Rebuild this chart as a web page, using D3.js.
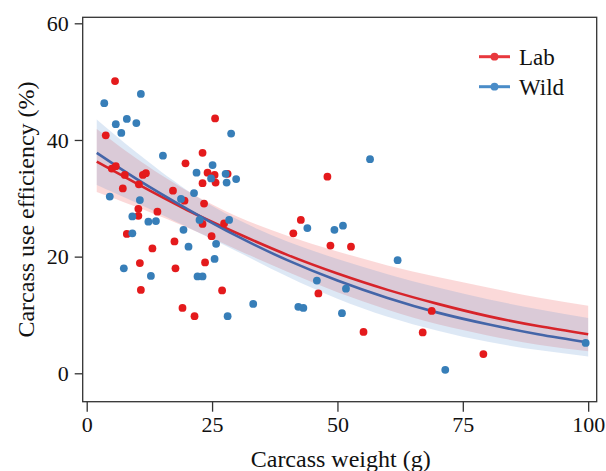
<!DOCTYPE html>
<html>
<head>
<meta charset="utf-8">
<script src="https://cdn.jsdelivr.net/npm/d3@7"></script>
<style>
	body { margin: 0; background: #fff; }
	svg text { font-family: 'Liberation Serif', 'Times New Roman', serif; fill: #111; }
	.tick line { stroke: #333; stroke-width: 1.3; }
	.tick text { font-size: 22px; }
	.label { font-size: 24px; }
	.legend { font-size: 23px; }
</style>
</head>
<body>
<svg width="606" height="471"></svg>
<script>
// points
let labWeight = [5.65, 3.8, 19.7, 25.6, 23.1, 24.1, 25.5, 28.1, 23.1, 25.7, 17.2, 19.5, 23.4, 14.1, 23.1, 27.4,
	17.5, 24.9, 23.6, 17.7, 27.0, 19.1, 21.5, 5.0, 5.8, 7.6, 11.2, 11.8, 7.2, 10.4, 10.3, 10.3, 8.0, 13.1, 10.6,
	10.8, 48.0, 42.7, 41.2, 48.6, 52.7, 46.2, 55.2, 68.8, 67.0, 79.1];
let labEff = [50.1, 40.8, 36.0, 43.7, 37.8, 34.4, 34.0, 34.2, 32.6, 32.7, 31.3, 29.6, 29.1, 27.7, 25.6, 25.7,
	22.6, 23.5, 19.0, 18.0, 14.2, 11.2, 9.8, 35.1, 35.5, 34.0, 34.0, 34.3, 31.7, 32.4, 28.2, 27.0, 23.9, 21.4, 18.9,
	14.3, 33.7, 26.3, 24.0, 21.9, 21.7, 13.7, 7.1, 10.7, 7.0, 3.3];
let wildWeight = [10.8, 3.5, 8.0, 5.8, 9.9, 6.9, 15.2, 21.9, 28.8, 25.1, 24.8, 27.7, 29.8, 27.9, 21.4, 18.8,
	22.5, 28.4, 19.3, 20.3, 25.8, 25.5, 22.1, 23.1, 33.2, 28.1, 4.6, 10.6, 9.1, 12.3, 13.8, 9.1, 7.4, 12.8,
	56.5, 44.0, 49.4, 51.1, 62.0, 45.9, 51.7, 42.2, 43.2, 50.9, 71.5, 99.5];
let wildEff = [47.9, 46.3, 43.6, 42.7, 42.9, 41.2, 37.3, 34.4, 41.1, 35.7, 33.4, 34.2, 33.3, 32.7, 30.9, 29.9,
	26.3, 26.3, 24.6, 21.7, 22.2, 19.6, 16.6, 16.6, 11.9, 9.8, 30.3, 29.7, 26.9, 26.0, 26.1, 24.0, 18.0, 16.7,
	36.7, 24.9, 24.6, 25.3, 19.4, 15.9, 14.5, 11.4, 11.2, 10.3, 0.6, 5.2];

// fitted curves and bands read at these weights
let fitWeight = [2, 10, 20, 30, 40, 50, 60, 70, 80, 90, 100];
let labFit = [36.3, 32.5, 28.0, 24.0, 20.3, 17.1, 14.3, 11.9, 9.8, 8.1, 6.7];
let labLow = [31.1, 28.5, 25.0, 21.2, 17.4, 13.9, 10.9, 8.4, 6.5, 4.9, 3.8];
let labHigh = [41.9, 36.8, 31.3, 26.9, 23.6, 20.9, 18.5, 16.5, 14.7, 13.0, 11.6];
let wildFit = [37.8, 33.3, 28.2, 23.5, 19.4, 15.9, 12.9, 10.4, 8.4, 6.7, 5.3];
let wildLow = [32.3, 29.2, 25.1, 20.9, 16.6, 12.8, 9.7, 7.3, 5.4, 4.0, 2.9];
let wildHigh = [43.5, 37.8, 31.4, 26.4, 22.6, 19.6, 17.0, 14.7, 12.7, 11.0, 9.5];

let xTicks = [0, 25, 50, 75, 100];
let yTicks = [0, 20, 40, 60];
let groups = ['Lab', 'Wild'];

let svg = d3.select('svg');
let plotLeft = 82.7, plotRight = 596.7, plotTop = 17.3, plotBottom = 401.7;

let xScale = d3.scaleLinear().domain([-0.8, 101.7]).range([plotLeft, plotRight]);
let yScale = d3.scaleLinear().domain([-4.87, 61.03]).range([plotBottom, plotTop]);

// bands
function band(low, high) {
	return d3.area()
		.x(function(d, i) { return xScale(fitWeight[i]); })
		.y0(function(d, i) { return yScale(low[i]); })
		.y1(function(d, i) { return yScale(high[i]); })
		.curve(d3.curveNatural)(fitWeight);
}
svg.append('path').attr('d', band(labLow, labHigh)).attr('fill', 'rgb(240,120,120)').attr('fill-opacity', 0.28);
svg.append('path').attr('d', band(wildLow, wildHigh)).attr('fill', 'rgb(100,150,210)').attr('fill-opacity', 0.22);

// fit lines
function fitLine(vals) {
	return d3.line()
		.x(function(d, i) { return xScale(fitWeight[i]); })
		.y(function(d) { return yScale(d); })
		.curve(d3.curveNatural)(vals);
}
svg.append('path').attr('d', fitLine(labFit)).attr('fill', 'none').attr('stroke', '#d7242a').attr('stroke-width', 2.6);
svg.append('path').attr('d', fitLine(wildFit)).attr('fill', 'none').attr('stroke', '#4465a8').attr('stroke-width', 2.6);

// points
svg.append('g').selectAll('circle').data(labWeight).enter().append('circle')
	.attr('cx', function(d) { return xScale(d); })
	.attr('cy', function(d, i) { return yScale(labEff[i]); })
	.attr('r', 3.9)
	.attr('fill', '#e41a1c');
svg.append('g').selectAll('circle').data(wildWeight).enter().append('circle')
	.attr('cx', function(d) { return xScale(d); })
	.attr('cy', function(d, i) { return yScale(wildEff[i]); })
	.attr('r', 3.9)
	.attr('fill', '#377eb8');

// frame
svg.append('rect')
	.attr('x', plotLeft).attr('y', plotTop)
	.attr('width', plotRight - plotLeft).attr('height', plotBottom - plotTop)
	.attr('fill', 'none').attr('stroke', '#333').attr('stroke-width', 1.3);

// axes
let xAxis = svg.append('g').attr('class', 'x-axis')
	.attr('transform', 'translate(0,' + plotBottom + ')')
	.call(d3.axisBottom(xScale).tickValues(xTicks).tickSize(10).tickPadding(5));
xAxis.select('.domain').remove();

let yAxis = svg.append('g').attr('class', 'y-axis')
	.attr('transform', 'translate(' + plotLeft + ',0)')
	.call(d3.axisLeft(yScale).tickValues(yTicks).tickSize(8).tickPadding(6));
yAxis.select('.domain').remove();

// axis labels
svg.append('text')
	.attr('class', 'label')
	.attr('x', (plotLeft + plotRight) / 2 + 1).attr('y', 467)
	.attr('text-anchor', 'middle')
	.text('Carcass weight (g)');
svg.append('text')
	.attr('class', 'label')
	.attr('transform', 'translate(34,' + ((plotTop + plotBottom) / 2) + ') rotate(-90)')
	.attr('text-anchor', 'middle')
	.text('Carcass use efficiency (%)');

// legend
let legendColors = ['#e8383d', '#4a8cc8'];
let legend = svg.append('g').selectAll('g').data(groups).enter().append('g')
	.attr('transform', function(d, i) { return 'translate(479,' + (56.7 + i * 30) + ')'; });
legend.append('line')
	.attr('x1', 0).attr('x2', 31)
	.attr('stroke', function(d, i) { return legendColors[i]; })
	.attr('stroke-width', 3);
legend.append('circle')
	.attr('cx', 15.5).attr('r', 3.9)
	.attr('fill', function(d, i) { return legendColors[i]; });
legend.append('text')
	.attr('class', 'legend')
	.attr('x', 40).attr('y', 8)
	.text(function(d) { return d; });
</script>
</body>
</html>
